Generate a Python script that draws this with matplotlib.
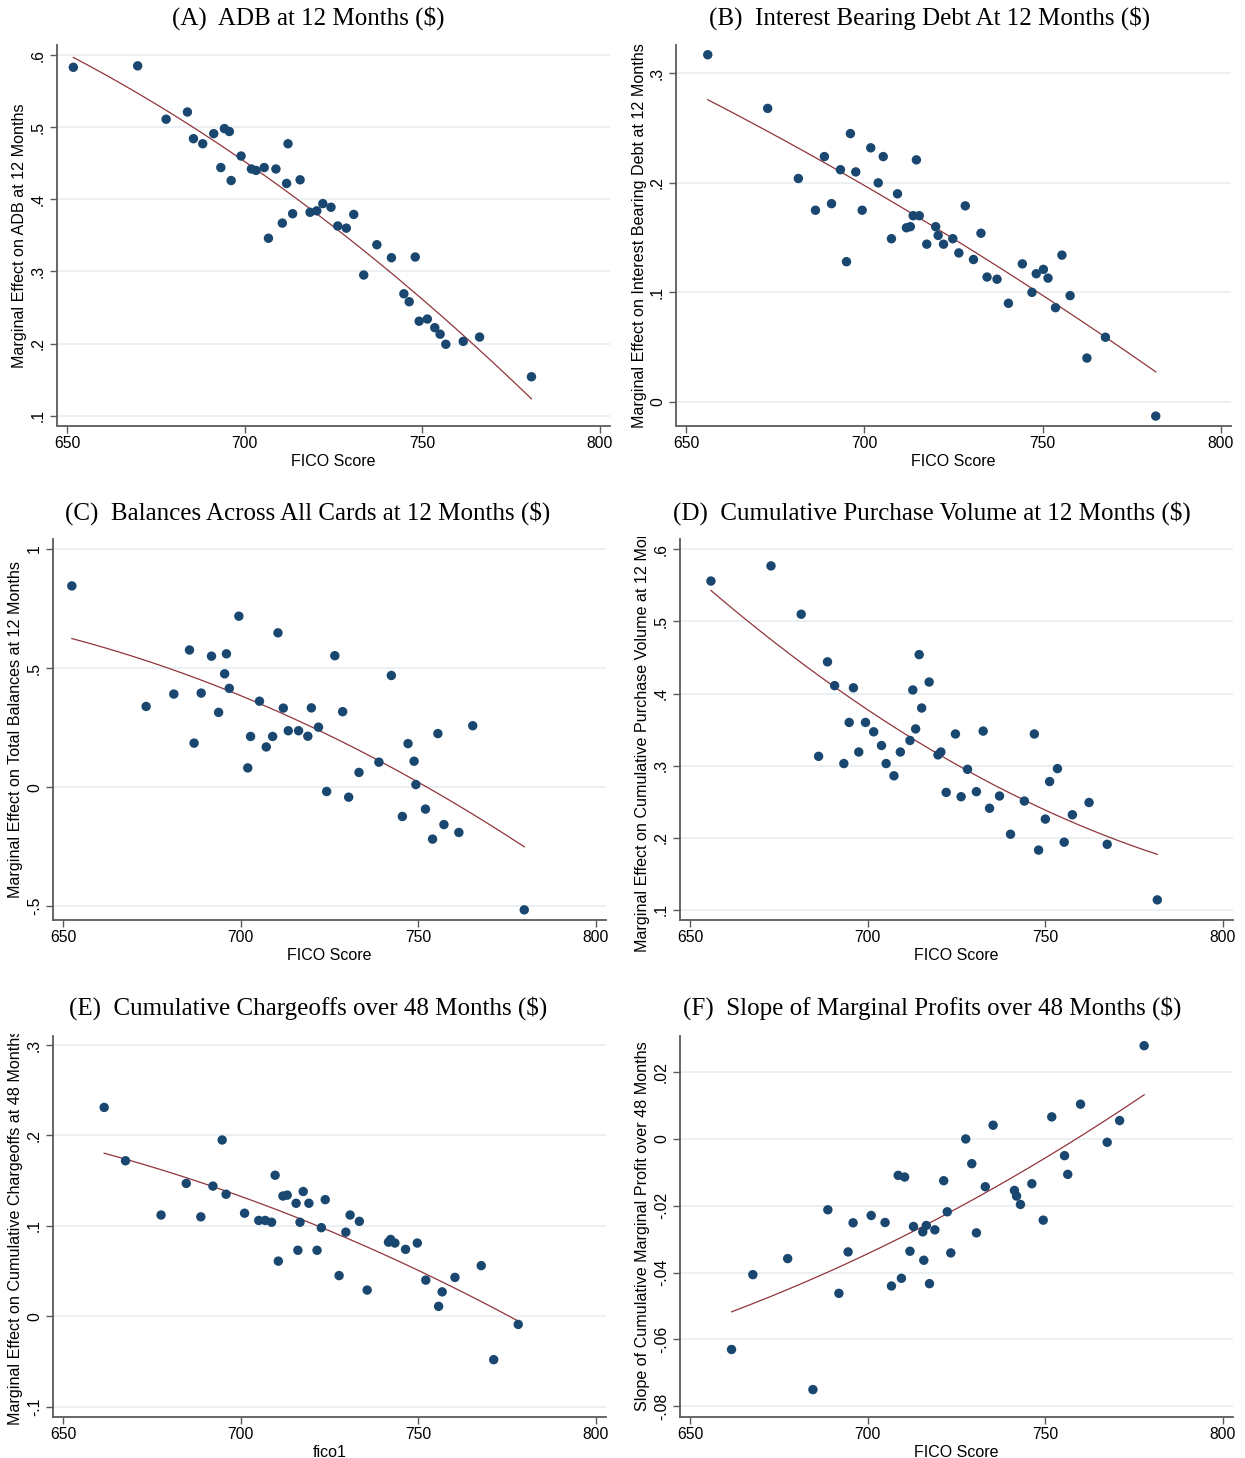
import numpy as np
import matplotlib
matplotlib.use("Agg")
import matplotlib.pyplot as plt
from matplotlib.transforms import Bbox, TransformedBbox

# ---------------- data ----------------
a_x = [651.8, 669.9, 677.9, 683.9, 685.6, 688.2, 691.3, 694.3, 695.7, 693.3, 696.2, 699.0,
       701.9, 703.2, 705.5, 708.8, 712.2, 711.8, 715.6, 706.7, 710.6, 713.5, 718.4, 720.3,
       722.0, 724.3, 726.2, 728.6, 730.7, 737.2, 733.5, 741.3, 748.0, 744.8, 746.3, 749.1,
       751.4, 753.5, 755.0, 756.6, 761.5, 766.1, 780.7]
a_y = [0.583, 0.585, 0.511, 0.521, 0.484, 0.477, 0.491, 0.498, 0.494, 0.444, 0.426, 0.460,
       0.442, 0.440, 0.444, 0.442, 0.477, 0.422, 0.427, 0.346, 0.367, 0.380, 0.382, 0.384,
       0.394, 0.389, 0.363, 0.360, 0.379, 0.337, 0.295, 0.319, 0.320, 0.269, 0.258, 0.231,
       0.234, 0.222, 0.213, 0.199, 0.203, 0.209, 0.154]

b_x = [656.1, 672.9, 681.5, 686.3, 688.8, 690.8, 693.3, 695.0, 696.1, 697.6, 699.4, 701.8,
       703.9, 705.3, 707.6, 709.3, 711.8, 712.9, 713.7, 714.6, 715.4, 717.5, 720.0, 720.7,
       722.2, 724.8, 726.5, 728.3, 730.6, 732.7, 734.4, 737.2, 740.4, 744.3, 747.0, 748.2,
       750.2, 751.5, 753.6, 755.4, 757.7, 762.4, 767.6, 781.7]
b_y = [0.317, 0.268, 0.204, 0.175, 0.224, 0.181, 0.212, 0.128, 0.245, 0.210, 0.175, 0.232,
       0.200, 0.224, 0.149, 0.190, 0.159, 0.160, 0.170, 0.221, 0.170, 0.144, 0.160, 0.152,
       0.144, 0.149, 0.136, 0.179, 0.130, 0.154, 0.114, 0.112, 0.090, 0.126, 0.100, 0.117,
       0.121, 0.113, 0.086, 0.134, 0.097, 0.040, 0.059, -0.013]

c_x = [652.5, 673.4, 681.2, 685.6, 686.9, 688.9, 691.8, 693.8, 695.5, 696.0, 696.8, 699.5,
       702.0, 702.8, 705.3, 707.2, 709.0, 710.5, 712.0, 713.4, 716.3, 718.9, 719.9, 721.9,
       724.2, 726.5, 728.7, 730.4, 733.3, 738.9, 742.4, 745.5, 747.1, 748.8, 749.3, 752.0,
       754.0, 755.5, 757.2, 761.4, 765.3, 779.8]
c_y = [0.845, 0.339, 0.391, 0.576, 0.185, 0.395, 0.550, 0.314, 0.476, 0.560, 0.415, 0.718,
       0.081, 0.213, 0.361, 0.169, 0.213, 0.648, 0.332, 0.237, 0.237, 0.214, 0.333, 0.252,
       -0.018, 0.552, 0.317, -0.042, 0.062, 0.105, 0.469, -0.123, 0.183, 0.109, 0.011, -0.092,
       -0.218, 0.225, -0.157, -0.190, 0.258, -0.515]

d_x = [655.9, 672.8, 681.3, 686.2, 688.7, 690.7, 693.3, 694.8, 696.0, 697.5, 699.4, 701.7,
       703.9, 705.2, 707.4, 709.2, 711.9, 712.7, 713.5, 714.5, 715.2, 717.3, 719.8, 720.6,
       722.1, 724.7, 726.3, 728.1, 730.6, 732.5, 734.3, 737.1, 740.2, 744.1, 746.9, 748.1,
       750.0, 751.2, 753.4, 755.3, 757.6, 762.3, 767.4, 781.5]
d_y = [0.556, 0.577, 0.510, 0.313, 0.444, 0.411, 0.303, 0.360, 0.408, 0.319, 0.360, 0.347,
       0.328, 0.303, 0.286, 0.319, 0.335, 0.405, 0.351, 0.454, 0.380, 0.416, 0.315, 0.319,
       0.263, 0.344, 0.257, 0.295, 0.264, 0.348, 0.241, 0.258, 0.205, 0.251, 0.344, 0.183,
       0.226, 0.278, 0.296, 0.194, 0.232, 0.249, 0.191, 0.114]

e_x = [661.6, 667.6, 677.6, 684.7, 688.8, 692.2, 694.8, 695.9, 701.1, 705.1, 706.9, 708.7,
       709.7, 710.6, 711.9, 713.1, 715.6, 716.1, 716.7, 717.6, 719.2, 721.5, 722.7, 723.8,
       727.7, 729.6, 730.8, 733.4, 735.6, 741.6, 742.2, 743.4, 746.4, 749.7, 752.1, 755.7,
       756.7, 760.3, 767.7, 771.2, 778.1]
e_y = [0.231, 0.172, 0.112, 0.147, 0.110, 0.144, 0.195, 0.135, 0.114, 0.106, 0.106, 0.104,
       0.156, 0.061, 0.133, 0.134, 0.125, 0.073, 0.104, 0.138, 0.125, 0.073, 0.098, 0.129,
       0.045, 0.093, 0.112, 0.105, 0.029, 0.082, 0.085, 0.081, 0.074, 0.081, 0.040, 0.011,
       0.027, 0.043, 0.056, -0.048, -0.009]

f_x = [661.7, 667.7, 677.5, 684.6, 688.8, 691.9, 694.5, 695.9, 701.0, 704.9, 706.7, 708.6,
       709.5, 710.4, 711.9, 712.9, 715.5, 715.8, 716.5, 717.4, 718.9, 721.4, 722.4, 723.4,
       727.6, 729.3, 730.6, 733.1, 735.3, 741.3, 741.9, 743.0, 746.2, 749.4, 751.8, 755.4,
       756.3, 759.9, 767.4, 770.9, 777.8]
f_y = [-0.0630, -0.0406, -0.0358, -0.0750, -0.0212, -0.0462, -0.0338, -0.0251, -0.0229,
       -0.0250, -0.0440, -0.0109, -0.0417, -0.0114, -0.0336, -0.0262, -0.0278, -0.0363,
       -0.0259, -0.0433, -0.0272, -0.0125, -0.0218, -0.0341, -0.0000, -0.0074, -0.0281,
       -0.0143, 0.0041, -0.0154, -0.0171, -0.0196, -0.0134, -0.0243, 0.0066, -0.0050,
       -0.0106, 0.0104, -0.0010, 0.0055, 0.0279]

titles = ["(A)  ADB at 12 Months ($)",
          "(B)  Interest Bearing Debt At 12 Months ($)",
          "(C)  Balances Across All Cards at 12 Months ($)",
          "(D)  Cumulative Purchase Volume at 12 Months ($)",
          "(E)  Cumulative Chargeoffs over 48 Months ($)",
          "(F)  Slope of Marginal Profits over 48 Months ($)"]
ylabels = ["Marginal Effect on ADB at 12 Months",
           "Marginal Effect on Interest Bearing Debt at 12 Months",
           "Marginal Effect on Total Balances at 12 Months",
           "Marginal Effect on Cumulative Purchase Volume at 12 Months",
           "Marginal Effect on Cumulative Chargeoffs at 48 Months",
           "Slope of Cumulative Marginal Profit over 48 Months"]
xlabels = ["FICO Score", "FICO Score", "FICO Score", "FICO Score", "fico1", "FICO Score"]
xticks = [650, 700, 750, 800]
yticks = [[.1, .2, .3, .4, .5, .6],
          [0, .1, .2, .3],
          [-.5, 0, .5, 1],
          [.1, .2, .3, .4, .5, .6],
          [-.1, 0, .1, .2, .3],
          [-.08, -.06, -.04, -.02, 0, .02]]
yticklabels = [[".1", ".2", ".3", ".4", ".5", ".6"],
               ["0", ".1", ".2", ".3"],
               ["-.5", "0", ".5", "1"],
               [".1", ".2", ".3", ".4", ".5", ".6"],
               ["-.1", "0", ".1", ".2", ".3"],
               ["-.08", "-.06", "-.04", "-.02", "0", ".02"]]
ylims = [(0.0864, 0.6139), (-0.0216, 0.3259), (-0.5576, 1.042),
         (0.0861, 0.6143), (-0.1114, 0.310), (-0.0832, 0.0308)]
xlim = (647.2, 802.8)

series = [(a_x, a_y), (b_x, b_y), (c_x, c_y), (d_x, d_y), (e_x, e_y), (f_x, f_y)]

# ---------------- layout (pixels) ----------------
W, H = 1245, 1458
lefts = [57, 676, 53, 680, 53, 680]
rights = [610, 1231, 606, 1233, 606, 1233]
tops = [45, 45, 539, 539, 1036, 1036]
bottoms = [425.5, 425.5, 920, 920, 1417, 1417]
title_y = [18, 18, 513, 513, 1008, 1008]
title_cx = [308, 930, 308, 932, 308, 932]
ylab_x = [20, 640, 16, 643, 16, 643]

NAVY = "#1a476f"
MAROON = "#90353b"
GRID = "#e6eef0"
AXC = "#5a5a5a"

plt.rcParams['font.family'] = ['Liberation Sans', 'DejaVu Sans']
fig = plt.figure(figsize=(W / 100, H / 100), dpi=100)
fig.patch.set_facecolor("white")

for i, (xs, ys) in enumerate(series):
    l, r, t, b = lefts[i], rights[i], tops[i], bottoms[i]
    ax = fig.add_axes([l / W, 1 - b / H, (r - l) / W, (b - t) / H])
    ax.set_facecolor("white")
    ax.set_xlim(*xlim)
    ax.set_ylim(*ylims[i])
    for yt in yticks[i]:
        ax.axhline(yt, color=GRID, lw=1.1, zorder=0)
    xs_a = np.asarray(xs)
    ys_a = np.asarray(ys)
    # quadratic fit of the scatter (as in the original qfit overlay)
    coef = np.polyfit(xs_a, ys_a, 2)
    xx = np.linspace(xs_a.min(), xs_a.max(), 200)
    ax.plot(xx, np.polyval(coef, xx), color=MAROON, lw=0.9, zorder=2)
    ax.scatter(xs_a, ys_a, s=46, color=NAVY, edgecolors="none", zorder=3)

    for sp in ["top", "right"]:
        ax.spines[sp].set_visible(False)
    for sp in ["left", "bottom"]:
        ax.spines[sp].set_color(AXC)
        ax.spines[sp].set_linewidth(1.3)
    ax.set_xticks(xticks)
    ax.set_xticklabels([str(v) for v in xticks])
    ax.set_yticks(yticks[i])
    ax.set_yticklabels(yticklabels[i], rotation=90, va="center")
    ax.tick_params(axis="both", direction="out", length=5, width=1.0, color=AXC,
                   labelsize=11.3, labelcolor="black")
    ax.tick_params(axis="x", pad=2.5)
    ax.tick_params(axis="y", pad=3)
    ax.set_xlabel(xlabels[i], fontsize=11.5, labelpad=2)

    # y label (clipped at top of plot region, as in the reference)
    yc = (t + b) / 2
    txt = fig.text(ylab_x[i] / W, 1 - yc / H, ylabels[i], rotation=90,
                   ha="center", va="center", fontsize=11.6)
    clip = TransformedBbox(Bbox([[0, 1 - b / H - 0.05], [1, 1 - (t - 2) / H]]),
                           fig.transFigure)
    txt.set_clip_box(clip)
    txt.set_clip_on(True)

    fig.text(title_cx[i] / W, 1 - title_y[i] / H, titles[i], ha="center", va="center",
             fontsize=18, family=["Liberation Serif", "DejaVu Serif"])

fig.savefig("out.png", dpi=100)
